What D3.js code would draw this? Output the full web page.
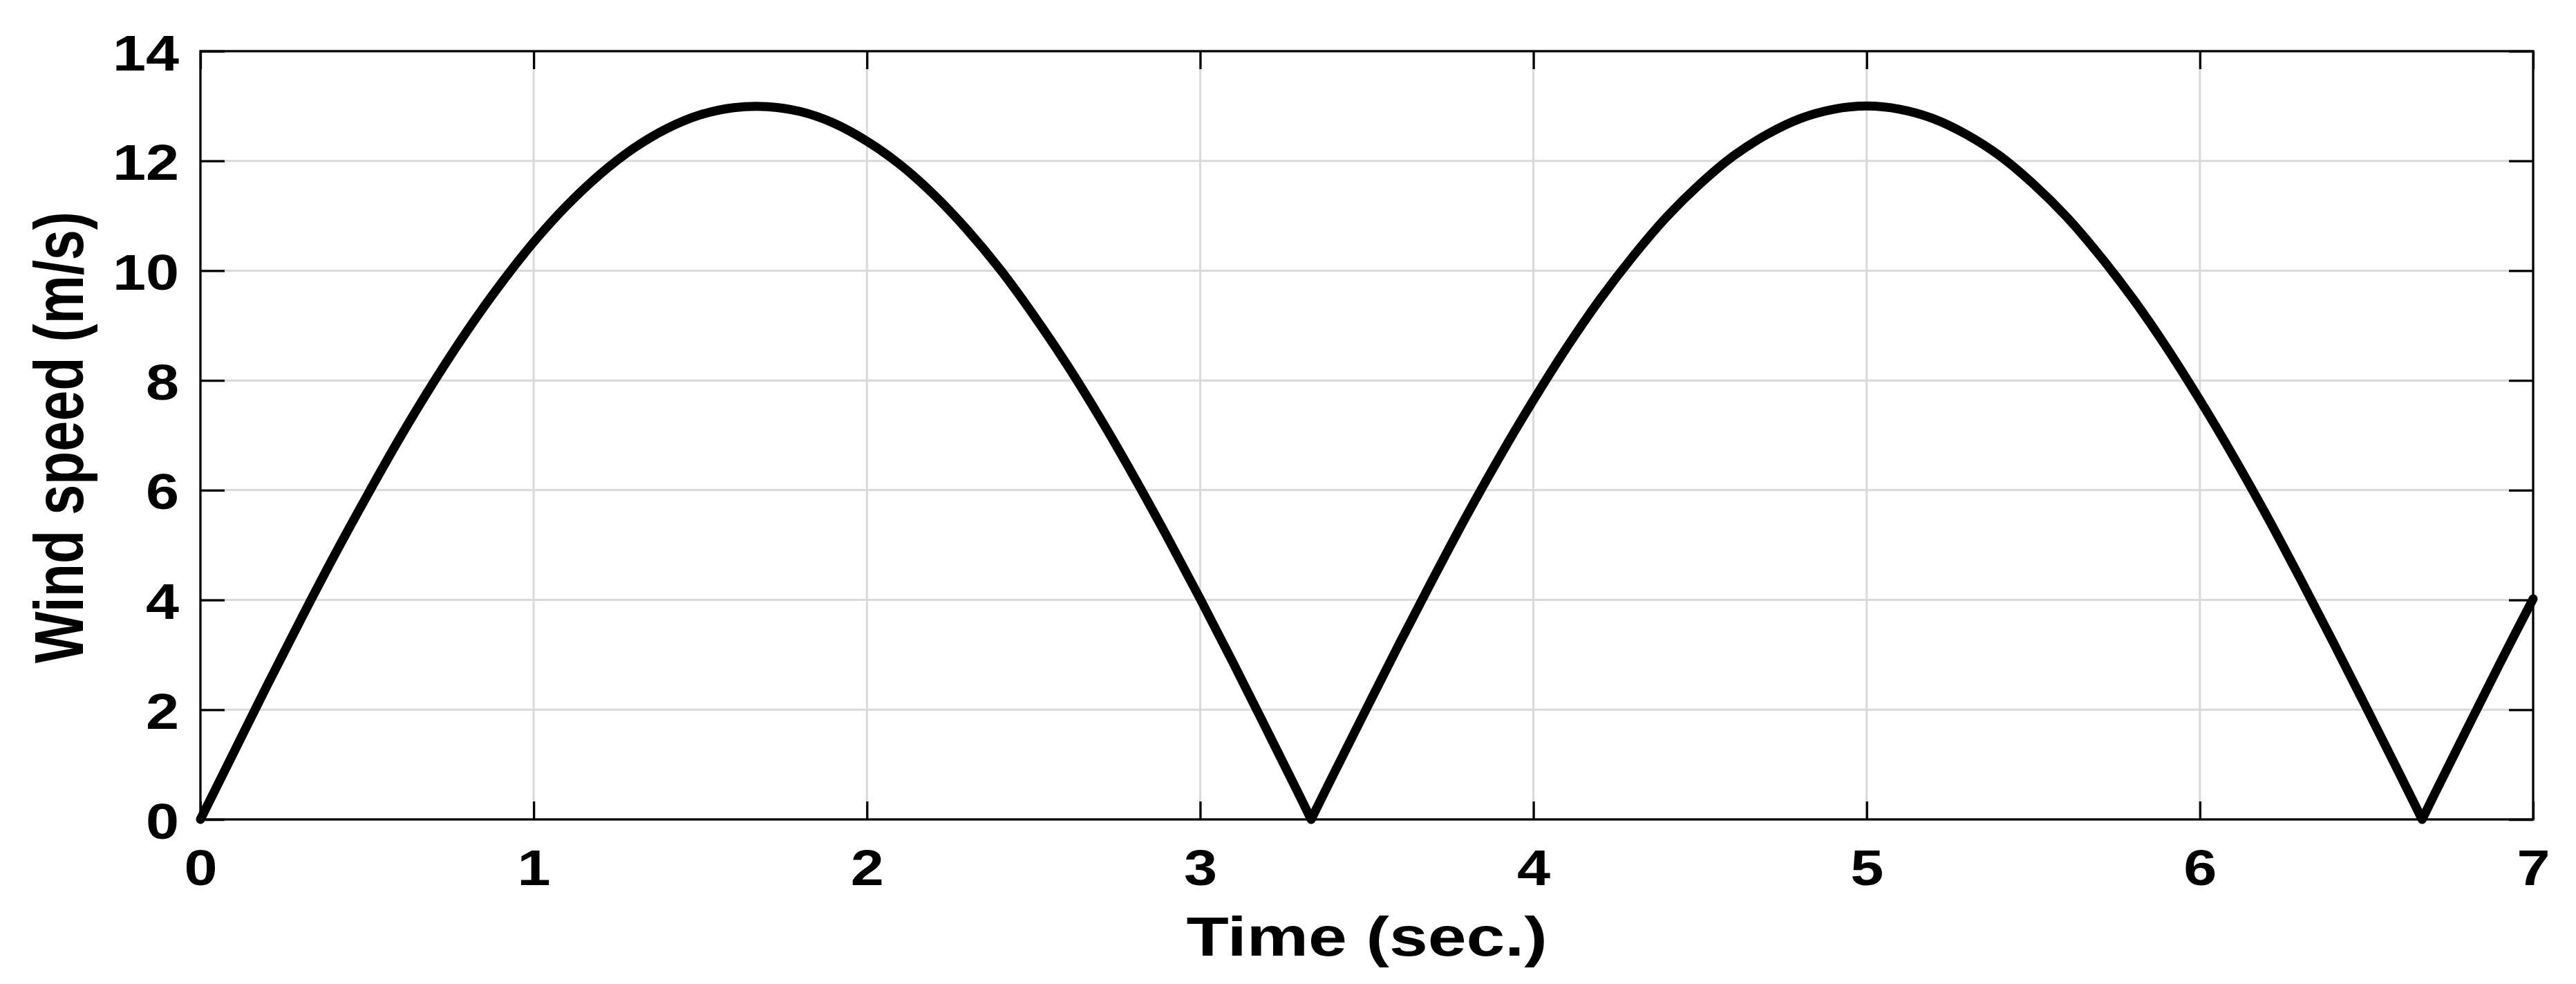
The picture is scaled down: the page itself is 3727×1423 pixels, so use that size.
<!DOCTYPE html>
<html>
<head>
<meta charset="utf-8">
<script src="https://cdn.jsdelivr.net/npm/d3@7"></script>
<style>
  html, body { margin: 0; padding: 0; background: #fff; }
  svg { display: block; }
</style>
</head>
<body>
<div id="chart"></div>
<script>
// values (time in s, wind speed in m/s)
const timeSec = [
  0.0, 0.1, 0.2, 0.3, 0.4, 0.5, 0.6, 0.7, 0.8, 0.9,
  1.0, 1.1, 1.2, 1.3, 1.4, 1.5, 1.6, 1.7, 1.8, 1.9,
  2.0, 2.1, 2.2, 2.3, 2.4, 2.5, 2.6, 2.7, 2.8, 2.9,
  3.0, 3.1, 3.2, 3.3, 3.333, 3.4, 3.5, 3.6, 3.7, 3.8, 3.9,
  4.0, 4.1, 4.2, 4.3, 4.4, 4.5, 4.6, 4.7, 4.8, 4.9,
  5.0, 5.1, 5.2, 5.3, 5.4, 5.5, 5.6, 5.7, 5.8, 5.9,
  6.0, 6.1, 6.2, 6.3, 6.4, 6.5, 6.6, 6.667, 6.7, 6.8, 6.9,
  7.0
];
const windSpeed = [
  0.00, 1.22, 2.44, 3.63, 4.79, 5.90, 6.97, 7.97, 8.90, 9.75,
  10.52, 11.19, 11.76, 12.23, 12.59, 12.84, 12.97, 12.99, 12.90, 12.69,
  12.36, 11.93, 11.39, 10.75, 10.02, 9.19, 8.29, 7.31, 6.26, 5.16,
  4.02, 2.84, 1.63, 0.41, 0.00, 0.82, 2.03, 3.23, 4.40, 5.54, 6.62,
  7.64, 8.60, 9.48, 10.27, 10.98, 11.58, 12.09, 12.48, 12.77, 12.94,
  13.00, 12.94, 12.77, 12.48, 12.09, 11.58, 10.98, 10.27, 9.48, 8.60,
  7.64, 6.62, 5.54, 4.40, 3.23, 2.03, 0.82, 0.00, 0.41, 1.63, 2.84,
  4.02
];
const xTicks = [0, 1, 2, 3, 4, 5, 6, 7];
const yTicks = [0, 2, 4, 6, 8, 10, 12, 14];
const xLabel = "Time (sec.)";
const yLabel = "Wind speed (m/s)";

const width = 3727, height = 1423;
const plot = { left: 290, right: 3665, top: 74, bottom: 1185 };
const font = "'Liberation Sans', Arial, Helvetica, sans-serif";
const tickFont = 72, tickStretch = 1.2;
const labelFont = 79, labelStretch = 1.27;

const svg = d3.select("#chart").append("svg")
  .attr("width", width)
  .attr("height", height)
  .style("background", "#fff");

const x = d3.scaleLinear().domain([0, 7]).range([plot.left, plot.right]);
const y = d3.scaleLinear().domain([0, 14]).range([plot.bottom, plot.top]);

// grid
const grid = svg.append("g").attr("stroke", "#d9d9d9").attr("stroke-width", 3);
grid.selectAll("line.gx")
  .data(xTicks.filter(d => d > 0 && d < 7))
  .enter().append("line")
  .attr("x1", d => x(d)).attr("x2", d => x(d))
  .attr("y1", plot.top).attr("y2", plot.bottom);
grid.selectAll("line.gy")
  .data(yTicks.filter(d => d > 0 && d < 14))
  .enter().append("line")
  .attr("x1", plot.left).attr("x2", plot.right)
  .attr("y1", d => y(d)).attr("y2", d => y(d));

// axes (ticks point inward, on all four sides)
const fmt = d3.format("d");
const xAxisBottom = svg.append("g")
  .attr("transform", `translate(0,${plot.bottom})`)
  .call(d3.axisBottom(x).tickValues(xTicks).tickFormat(fmt).tickSizeInner(-26).tickSizeOuter(0));
const xAxisTop = svg.append("g")
  .attr("transform", `translate(0,${plot.top})`)
  .call(d3.axisTop(x).tickValues(xTicks).tickSizeInner(-26).tickSizeOuter(0).tickFormat(""));
const yAxisLeft = svg.append("g")
  .attr("transform", `translate(${plot.left},0)`)
  .call(d3.axisLeft(y).tickValues(yTicks).tickFormat(fmt).tickSizeInner(-35).tickSizeOuter(0));
const yAxisRight = svg.append("g")
  .attr("transform", `translate(${plot.right},0)`)
  .call(d3.axisRight(y).tickValues(yTicks).tickSizeInner(-35).tickSizeOuter(0).tickFormat(""));

[xAxisBottom, xAxisTop, yAxisLeft, yAxisRight].forEach(g => {
  g.select(".domain").remove();
  g.selectAll(".tick line").attr("stroke", "#000").attr("stroke-width", 3.3);
});
xAxisTop.selectAll("text").remove();
yAxisRight.selectAll("text").remove();

xAxisBottom.selectAll("text")
  .attr("y", 95)
  .attr("dy", null)
  .attr("x", 0)
  .attr("text-anchor", "middle")
  .attr("transform", `scale(${tickStretch},1)`)
  .style("font-family", font)
  .style("font-weight", "bold")
  .style("font-size", tickFont + "px")
  .attr("fill", "#000");

yAxisLeft.selectAll("text")
  .attr("x", -31 / tickStretch)
  .attr("dy", null)
  .attr("y", 27)
  .attr("text-anchor", "end")
  .attr("transform", `scale(${tickStretch},1)`)
  .style("font-family", font)
  .style("font-weight", "bold")
  .style("font-size", tickFont + "px")
  .attr("fill", "#000");

// box
svg.append("rect")
  .attr("x", plot.left).attr("y", plot.top)
  .attr("width", plot.right - plot.left)
  .attr("height", plot.bottom - plot.top)
  .attr("fill", "none")
  .attr("stroke", "#000")
  .attr("stroke-width", 3.3);

// curve: split into arches at the zero cusps so each arch is smoothed on its own
const points = timeSec.map((t, i) => [t, windSpeed[i]]);
const arches = [];
let current = [];
points.forEach((p, i) => {
  current.push(p);
  if (p[1] === 0 && i > 0 && i < points.length - 1) {
    arches.push(current);
    current = [p];
  }
});
arches.push(current);

const line = d3.line()
  .x(d => x(d[0]))
  .y(d => y(d[1]))
  .curve(d3.curveCatmullRom.alpha(0.5));

svg.append("path")
  .attr("d", arches.map(a => line(a)).join(""))
  .attr("fill", "none")
  .attr("stroke", "#000")
  .attr("stroke-width", 13)
  .attr("stroke-linejoin", "round")
  .attr("stroke-linecap", "round");

// axis labels
svg.append("text")
  .attr("transform", `translate(${(plot.left + plot.right) / 2},1382) scale(${labelStretch},1)`)
  .attr("text-anchor", "middle")
  .style("font-family", font)
  .style("font-weight", "bold")
  .style("font-size", labelFont + "px")
  .text(xLabel);

svg.append("text")
  .attr("transform", `translate(120,${(plot.top + plot.bottom) / 2 + 3}) scale(${labelStretch},1) rotate(-90)`)
  .attr("text-anchor", "middle")
  .style("font-family", font)
  .style("font-weight", "bold")
  .style("font-size", labelFont + "px")
  .text(yLabel);
</script>
</body>
</html>
